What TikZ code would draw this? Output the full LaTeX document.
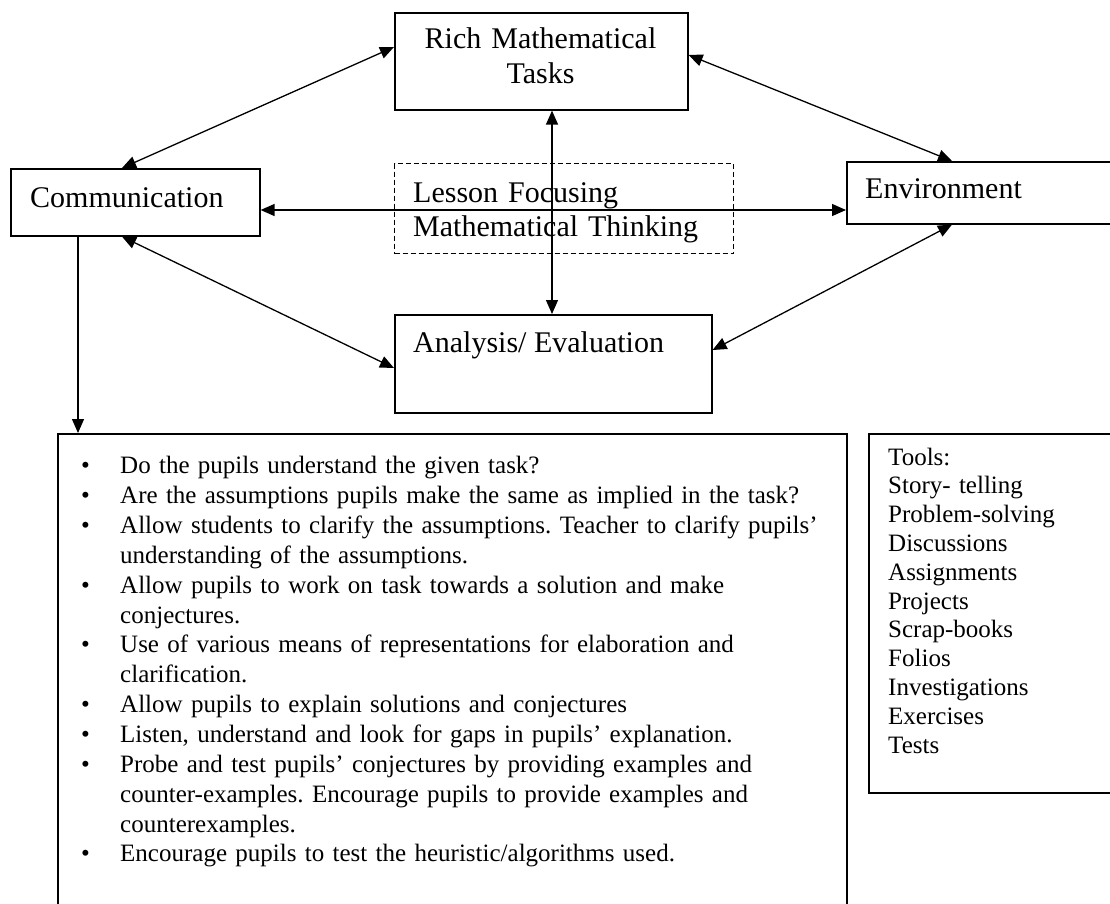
\documentclass[tikz,border=0pt]{standalone}
\usepackage{fontspec}
\setmainfont{Liberation Serif}
\usetikzlibrary{arrows.meta}
\frenchspacing
\begin{document}
\begin{tikzpicture}[x=1pt,y=-1pt,
  box/.style={draw, line width=1.6pt, rectangle, inner sep=0pt, anchor=north west},
  dbox/.style={draw, line width=1.3pt, dash pattern=on 5pt off 3pt, rectangle, inner sep=0pt, anchor=north west},
  lbl/.style={inner sep=0pt, anchor=base west, font=\fontsize{30}{35}\selectfont},
  arr/.style={line width=1.3pt, {Triangle[length=14pt,width=12pt]}-{Triangle[length=14pt,width=12pt]}},
  sarr/.style={line width=1.3pt, -{Triangle[length=14pt,width=12pt]}}]
\useasboundingbox (0,0) rectangle (1110,903);
\clip (0,0) rectangle (1110,903);
% boxes
\node[box, minimum width=293pt, minimum height=97pt] (rich) at (394,12) {};
\node[box, minimum width=249pt, minimum height=67pt] (comm) at (10,168) {};
\node[box, minimum width=280pt, minimum height=62pt] (env) at (846,161) {};
\node[dbox, minimum width=339pt, minimum height=90pt] (lesson) at (394,163) {};
\node[box, minimum width=317pt, minimum height=98pt] (ana) at (394,314) {};
\node[box, minimum width=789pt, minimum height=490pt] (list) at (57,433) {};
\node[box, minimum width=262pt, minimum height=359pt] (tools) at (868,433) {};
% labels
\node[lbl, anchor=base, text width=293pt, align=center] (richtxt) at (540.5,48) {Rich Mathematical\\Tasks};
\node[lbl] (commtxt) at (30,207) {Communication};
\node[lbl] (envtxt) at (865,198) {Environment};
\node[lbl, text width=320pt, align=left, font=\fontsize{30}{34}\selectfont] (lessontxt) at (413,202) {Lesson Focusing\\Mathematical Thinking};
\node[lbl] (anatxt) at (413,352) {Analysis/ Evaluation};
% arrows
\draw[arr] ([xshift=112pt]comm.north west) -- ([yshift=-35pt]rich.north west);
\draw[arr] ([yshift=-43pt]rich.north east) -- ([xshift=106pt]env.north west);
\draw[arr] ([yshift=-42pt]comm.north east) -- ([yshift=-49pt]env.north west);
\draw[arr] ([xshift=158pt]rich.south west) -- ([xshift=158pt]ana.north west);
\draw[arr] ([xshift=112pt]comm.south west) -- ([yshift=-54pt]ana.north west);
\draw[arr] ([xshift=106pt]env.south west) -- ([yshift=-36pt]ana.north east);
\draw[sarr] ([xshift=68pt]comm.south west) -- ([xshift=21pt]list.north west);
% bullet list
\node[inner sep=0pt, anchor=base west, text width=760pt, font=\fontsize{25}{29.85}\selectfont] (items) at (81,444) {%
\begin{list}{}{\setlength{\leftmargin}{39pt}\setlength{\labelsep}{0pt}\setlength{\labelwidth}{39pt}\setlength{\itemsep}{0pt}\setlength{\parsep}{0pt}\setlength{\topsep}{0pt}\setlength{\partopsep}{0pt}\renewcommand{\makelabel}[1]{\textbullet\hfil}\raggedright}
\item Do the pupils understand the given task?
\item Are the assumptions pupils make the same as implied in the task?
\item Allow students to clarify the assumptions. Teacher to clarify pupils’\\understanding of the assumptions.
\item Allow pupils to work on task towards a solution and make\\conjectures.
\item Use of various means of representations for elaboration and\\clarification.
\item Allow pupils to explain solutions and conjectures
\item Listen, understand and look for gaps in pupils’ explanation.
\item Probe and test pupils’ conjectures by providing examples and\\counter-examples. Encourage pupils to provide examples and\\counterexamples.
\item Encourage pupils to test the heuristic/algorithms used.
\end{list}};
% tools list
\node[inner sep=0pt, anchor=base west, text width=200pt, align=left, font=\fontsize{25}{28.8}\selectfont] (toolstxt) at (888,465) {Tools:\\Story- telling\\Problem-solving\\Discussions\\Assignments\\Projects\\Scrap-books\\Folios\\Investigations\\Exercises\\Tests};
\end{tikzpicture}
\end{document}
